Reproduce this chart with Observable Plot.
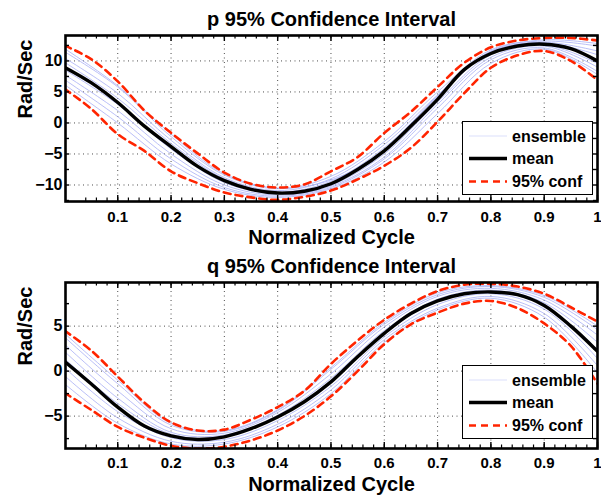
<!DOCTYPE html>
<html><head><meta charset="utf-8">
<script src="https://cdn.jsdelivr.net/npm/d3@7"></script>
<script src="https://cdn.jsdelivr.net/npm/@observablehq/plot@0.6"></script>
<style>
body{margin:0;background:#fff;}
#wrap{position:relative;width:601px;height:497px;overflow:hidden;font-family:"Liberation Sans",Arial,sans-serif;}
#wrap svg.plot{display:block;}
.legend{position:absolute;}
</style>
</head><body>
<div id="wrap"></div>
<script>
// ---------- data ----------
const t21 = [0,0.05,0.1,0.15,0.2,0.25,0.3,0.35,0.4,0.45,0.5,0.55,0.6,0.65,0.7,0.75,0.8,0.85,0.9,0.95,1];
const t11 = [0,0.1,0.2,0.3,0.4,0.5,0.6,0.7,0.8,0.9,1];

const pMean  = [9.0,6.5,3.3,-0.5,-3.8,-7.0,-9.3,-10.7,-11.3,-11.0,-9.8,-7.5,-4.5,-0.5,3.8,8.6,11.2,12.4,12.7,12.0,10.0];
const pUpper = [12.5,10.3,6.7,2.0,-1.6,-4.9,-8.0,-9.8,-10.4,-9.9,-7.8,-5.5,-1.6,1.8,5.8,9.7,12.2,13.3,13.7,13.7,13.3];
const pLower = [5.5,2.3,-1.8,-4.5,-7.8,-9.7,-11.2,-12.0,-12.4,-11.9,-10.9,-9.1,-6.9,-4.0,0.2,4.8,8.9,10.9,11.6,10.0,6.9];
const pEnsemble = [
  [11.5,5.8,-2.2,-8.4,-10.6,-8.6,-3.0,5.0,11.8,13.2,12.4],
  [10.5,4.8,-2.8,-8.8,-10.9,-9.0,-3.5,4.5,11.5,13.0,11.6],
  [9.8,4.0,-3.3,-9.0,-11.1,-9.4,-4.0,4.2,11.4,12.9,11.0],
  [8.6,3.0,-4.2,-9.6,-11.4,-10.0,-5.0,3.4,11.0,12.6,9.6],
  [7.8,2.0,-5.0,-10.0,-11.6,-10.2,-5.5,3.0,10.6,12.4,9.0],
  [7.0,1.0,-5.8,-10.4,-11.8,-10.4,-5.8,2.4,10.2,12.1,8.3],
  [6.2,0.0,-6.6,-10.7,-12.0,-10.6,-6.3,1.5,9.6,11.9,7.8],
  [12.0,6.0,-1.8,-8.2,-10.5,-9.2,-4.4,4.4,11.6,13.4,12.8]
];

const qMean  = [1.1,-1.4,-4.0,-6.1,-7.2,-7.6,-7.3,-6.4,-5.1,-3.4,-1.2,1.6,4.2,6.4,7.8,8.6,8.8,8.5,7.3,5.0,2.2];
const qUpper = [4.5,2.3,-0.6,-3.5,-5.7,-6.6,-6.5,-5.4,-4.0,-2.2,0.8,3.4,5.7,7.5,8.9,9.6,9.7,9.4,8.6,7.1,5.5];
const qLower = [-2.4,-4.3,-6.2,-7.4,-8.3,-8.6,-8.4,-7.7,-6.6,-5.0,-2.8,0.0,3.0,5.2,6.5,7.5,7.8,7.0,5.3,2.8,-1.4];
const qEnsemble = [
  [3.8,-1.4,-6.0,-6.7,-4.4,0.2,5.2,8.5,9.4,8.2,4.6],
  [3.0,-2.2,-6.4,-6.9,-4.6,-0.3,4.9,8.3,9.2,7.9,4.0],
  [2.2,-3.0,-6.8,-7.1,-4.9,-0.8,4.5,8.0,9.0,7.6,3.2],
  [1.4,-3.6,-7.0,-7.3,-5.1,-1.2,4.2,7.8,8.8,7.3,2.4],
  [0.4,-4.5,-7.4,-7.6,-5.5,-1.7,3.8,7.4,8.6,6.9,1.4],
  [-0.5,-5.2,-7.8,-7.9,-5.9,-2.1,3.5,7.0,8.3,6.4,0.6],
  [-1.4,-5.8,-8.1,-8.1,-6.2,-2.5,3.2,6.8,8.1,6.0,-0.2],
  [4.2,-1.0,-5.8,-6.6,-4.3,0.4,5.4,8.7,9.5,8.4,5.0]
];

const xTicks = [0.1,0.2,0.3,0.4,0.5,0.6,0.7,0.8,0.9,1];
const xMinor = d3.range(2, 51).map(i => i * 0.02);
const pYTicks = [-10,-5,0,5,10];
const pYMinor = [-12.5,-10,-7.5,-5,-2.5,0,2.5,5,7.5,10,12.5];
const qYTicks = [-5,0,5];
const qYMinor = [-7.5,-5,-2.5,0,2.5,5,7.5];
const legendLabels = ["ensemble","mean","95% conf"];

const RED = "#ff2400", BLUE = "#a8aef5";

function panel({title, mean, upper, lower, ens, yDomain, yTicks, yMinor, height, marginTop, marginBottom, padX}) {
  const W = 601, ML = 65, MR = 4;
  const fw = W - ML - MR, fh = height - marginTop - marginBottom;
  const series = (arr) => t21.map((t, i) => ({t, v: arr[i]}));
  const ensRows = ens.flatMap((e, k) => t11.map((t, i) => ({t, v: e[i], k})));
  return Plot.plot({
    width: W, height, marginLeft: ML, marginRight: MR, marginTop, marginBottom,
    className: "plot",
    style: {fontFamily: "'Liberation Sans', Arial, sans-serif", fontSize: "15px", fontWeight: "bold", color: "black", background: "white", overflow: "visible"},
    x: {domain: [0.002, 1]},
    y: {domain: yDomain},
    marks: [
      Plot.gridX(xTicks, {stroke: "#000", strokeOpacity: 0.7, strokeDasharray: "1,3.5"}),
      Plot.gridY(yTicks, {stroke: "#000", strokeOpacity: 0.7, strokeDasharray: "1,3.5"}),
      Plot.line(ensRows, {x: "t", y: "v", z: "k", stroke: BLUE, strokeWidth: 0.8, curve: "catmull-rom", clip: true}),
      Plot.line(series(upper), {x: "t", y: "v", stroke: RED, strokeWidth: 2.6, strokeDasharray: "7,5", curve: "catmull-rom", clip: true}),
      Plot.line(series(lower), {x: "t", y: "v", stroke: RED, strokeWidth: 2.6, strokeDasharray: "7,5", curve: "catmull-rom", clip: true}),
      Plot.line(series(mean), {x: "t", y: "v", stroke: "black", strokeWidth: 3.4, curve: "catmull-rom", clip: true}),
      // inward tick marks on all four sides
      Plot.ruleX(xMinor, {x: d => d, insetTop: fh - 3.5, stroke: "black", strokeWidth: 1.2}),
      Plot.ruleX(xMinor, {x: d => d, insetBottom: fh - 3.5, stroke: "black", strokeWidth: 1.2}),
      Plot.ruleX(xTicks, {x: d => d, insetTop: fh - 6, stroke: "black", strokeWidth: 1.4}),
      Plot.ruleX(xTicks, {x: d => d, insetBottom: fh - 6, stroke: "black", strokeWidth: 1.4}),
      Plot.ruleY(yMinor, {y: d => d, insetRight: fw - 4, stroke: "black", strokeWidth: 1.4}),
      Plot.ruleY(yMinor, {y: d => d, insetLeft: fw - 4, stroke: "black", strokeWidth: 1.4}),
      Plot.frame({stroke: "black", strokeWidth: 2.6}),
      Plot.axisX(xTicks, {tickSize: 0, tickPadding: padX, label: null, fontSize: 15, fontWeight: "bold", tickFormat: d => String(d)}),
      Plot.axisY(yTicks, {tickSize: 0, tickPadding: 3, label: null, fontSize: 16, fontWeight: "bold", tickFormat: d => d < 0 ? "\u2212" + Math.abs(d) : String(d)}),
      Plot.text([title], {text: d => d, frameAnchor: "top", dy: -15.5, lineAnchor: "middle", fontSize: 20, fontWeight: "bold"}),
      Plot.text(["Normalized Cycle"], {text: d => d, frameAnchor: "bottom", dy: 36.5, lineAnchor: "middle", fontSize: 20, fontWeight: "bold"}),
      Plot.text(["Rad/Sec"], {text: d => d, frameAnchor: "left", dx: -40, rotate: -90, lineAnchor: "middle", fontSize: 20, fontWeight: "bold"})
    ]
  });
}

function legend(top) {
  const div = document.createElement("div");
  div.className = "legend";
  div.style.left = "462px"; div.style.top = top + "px";
  const svg = d3.create("svg").attr("width", 131).attr("height", 74)
    .style("font-family", "'Liberation Sans', Arial, sans-serif").style("font-weight", "bold").style("font-size", "16px");
  svg.append("rect").attr("x", 0.5).attr("y", 0.5).attr("width", 130).attr("height", 73).attr("fill", "white").attr("stroke", "black").attr("stroke-width", 1);
  const rows = [15, 37.5, 60.5];
  const styles = [
    {stroke: BLUE, width: 0.8, dash: null, opacity: 0.5},
    {stroke: "black", width: 3.4, dash: null, opacity: 1},
    {stroke: RED, width: 2.6, dash: "7,5", opacity: 1}
  ];
  legendLabels.forEach((lab, i) => {
    const s = styles[i];
    svg.append("line").attr("x1", 7).attr("x2", 45).attr("y1", rows[i]).attr("y2", rows[i])
      .attr("stroke", s.stroke).attr("stroke-width", s.width).attr("stroke-opacity", s.opacity)
      .attr("stroke-dasharray", s.dash);
    svg.append("text").attr("x", 50).attr("y", rows[i]).attr("dy", "0.36em").text(lab);
  });
  div.appendChild(svg.node());
  return div;
}

const wrap = document.getElementById("wrap");
wrap.appendChild(panel({title: "p 95% Confidence Interval", mean: pMean, upper: pUpper, lower: pLower, ens: pEnsemble,
  yDomain: [-12.66, 14.1], yTicks: pYTicks, yMinor: pYMinor, height: 248, marginTop: 35, marginBottom: 47, padX: 10}));
wrap.appendChild(panel({title: "q 95% Confidence Interval", mean: qMean, upper: qUpper, lower: qLower, ens: qEnsemble,
  yDomain: [-8.6, 9.85], yTicks: qYTicks, yMinor: qYMinor, height: 249, marginTop: 34, marginBottom: 49, padX: 9}));
wrap.appendChild(legend(121));
wrap.appendChild(legend(365));
</script>
</body></html>
